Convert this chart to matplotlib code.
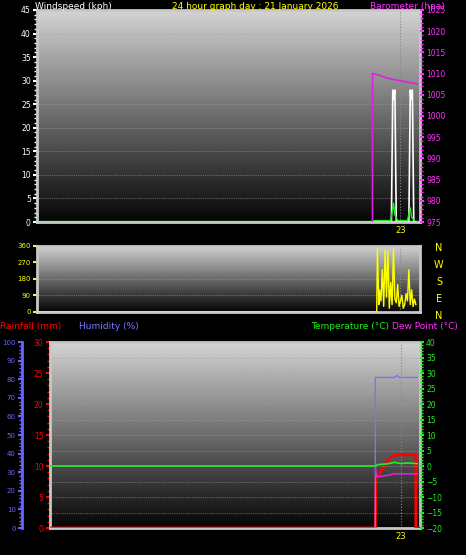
import numpy as np
import matplotlib
matplotlib.use("Agg")
import matplotlib.pyplot as plt

# ---- data (hours on the 24h axis) ----
baro_t = [21.0, 21.0, 21.5, 22.0, 22.5, 23.0, 23.5, 24.2]
baro_v = [975, 1010, 1009.6, 1009.0, 1008.6, 1008.3, 1008.0, 1007.6]
gust_t = [21.0, 22.35, 22.45, 22.5, 22.6, 22.7, 22.8, 23.6, 23.7, 23.75, 23.85, 23.95, 24.05]
gust_v = [0, 0, 28, 26, 28, 0, 0, 0, 28, 26, 28, 0, 0]
avg_t = [21.0, 22.3, 22.5, 22.6, 22.8, 23.5, 23.7, 23.8, 24.0]
avg_v = [0.3, 0.3, 4, 1.5, 0.3, 0.3, 3, 1, 0.3]
dir_t = [-3.0, 21.3, 21.35, 21.45, 21.5, 21.6, 21.7, 21.8, 21.9, 22.0, 22.1, 22.2, 22.3, 22.4, 22.5, 22.6,
         22.7, 22.8, 22.9, 23.0, 23.1, 23.2, 23.3, 23.4, 23.5, 23.6, 23.7, 23.8, 23.9, 24.0, 24.1]
dir_v = [0, 0, 345, 40, 120, 60, 230, 30, 340, 80, 330, 20, 160, 40, 340, 70, 50, 150, 30, 60,
         90, 20, 40, 100, 60, 230, 40, 120, 30, 70, 40]
hum_t = [-3.0, 21.1, 21.1, 22.5, 22.7, 22.9, 24.2]
hum_v = [0, 0, 81, 81, 82, 81, 81]
temp_t = [-3.0, 21.1, 21.3, 22.0, 22.5, 23.0, 23.5, 24.2]
temp_v = [0, 0, 0.5, 0.7, 1.2, 0.8, 1.0, 0.8]
dew_t = [-3.0, 21.1, 21.2, 22.0, 22.5, 23.0, 24.2]
dew_v = [0, 0, -3.5, -3.0, -2.5, -2.5, -2.5]
rain_t = [-3.0, 21.1, 21.15, 21.5, 21.9, 22.3, 22.6, 24.1, 24.1, 24.4]
rain_v = [0, 0, 8.2, 9.0, 10.5, 11.5, 11.8, 11.8, 0, 0]

XL = (-3.0, 24.4)
fig = plt.figure(figsize=(4.66, 5.55), dpi=100, facecolor='black')

def bg(ax):
    g = np.linspace(0.83, 0.02, 200).reshape(-1, 1)
    ax.imshow(g, cmap='gray', vmin=0, vmax=1, aspect='auto', extent=(0, 1, 0, 1),
              transform=ax.transAxes, zorder=0)
    ax.set_facecolor('black')
    for s in ax.spines.values():
        s.set_color('#c8c8c8'); s.set_linewidth(2)
    ax.axvline(23, color='#888888', ls=':', lw=0.8, zorder=1)
    ax.set_xlim(*XL)
    ax.set_xticks([23]); ax.set_xticklabels(['23'], color='yellow', fontsize=6)
    ax.tick_params(axis='x', length=0, pad=3)

def yfmt(ax, color, size=5.5):
    ax.tick_params(axis='y', colors=color, labelsize=size, length=3, width=1.5, direction='out',
                   labelcolor=color, pad=1.5)
    ax.tick_params(axis='y', which='minor', colors=color, length=2, width=1)

# top panel
ax1 = fig.add_axes([0.0794, 0.6, 0.822, 0.382])
bg(ax1)
ax1.set_ylim(0, 45); ax1.set_yticks(range(0, 46, 5))
ax1.set_yticks(np.arange(0, 46, 1), minor=True)
yfmt(ax1, 'white')
for y in range(5, 45, 5):
    ax1.axhline(y, color='#a0a0a0', ls=':', lw=0.5, zorder=1)
ax1.plot(gust_t, gust_v, color='white', lw=1.2, zorder=3)
ax1.plot(avg_t, avg_v, color='#22ee22', lw=1.0, zorder=4)
ax1.axhline(0.3, color='#22ee22', lw=1, zorder=2)
ax1b = ax1.twinx()
ax1b.set_ylim(975, 1025); ax1b.set_yticks(range(975, 1026, 5))
ax1b.set_yticks(np.arange(975, 1026, 1), minor=True)
for s in ax1b.spines.values(): s.set_visible(False)
yfmt(ax1b, '#ff33ff')
ax1b.plot(baro_t, baro_v, color='#dd22dd', lw=1.2)
fig.text(0.075, 0.997, 'Windspeed (kph)', color='white', fontsize=6.5, va='top')
fig.text(0.37, 0.997, '24 hour graph day : 21 January 2026', color='yellow', fontsize=6.5, va='top')
fig.text(0.795, 0.997, 'Barometer (hpa)', color='#ff33ff', fontsize=6.5, va='top')

# middle panel
ax2 = fig.add_axes([0.0794, 0.438, 0.822, 0.119])
bg(ax2)
ax2.set_ylim(0, 360); ax2.set_yticks([0, 90, 180, 270, 360])
ax2.set_xticklabels([])
yfmt(ax2, 'yellow', size=5)
for y in [90, 180, 270]:
    ax2.axhline(y, color='#a0a0a0', ls=':', lw=0.5, zorder=1)
ax2.plot(dir_t, dir_v, color='yellow', lw=1.0, zorder=3)
for i, lab in enumerate(['N', 'W', 'S', 'E', 'N']):
    fig.text(0.942, 0.553 - i * 0.0305, lab, color='yellow', fontsize=7, va='center', ha='center')

# bottom panel
ax3 = fig.add_axes([0.107, 0.0486, 0.794, 0.335])
bg(ax3)
ax3.set_ylim(0, 30); ax3.set_yticks(range(0, 31, 5))
ax3.set_yticks(np.arange(0, 31, 1), minor=True)
yfmt(ax3, 'red')
ax3.plot(rain_t, rain_v, color='red', lw=2, zorder=5)
ax3h = ax3.twinx()
ax3h.set_ylim(0, 100)
ax3h.spines['left'].set_position(('outward', 20)); ax3h.spines['left'].set_visible(True)
ax3h.spines['left'].set_color('#6666ff'); ax3h.spines['left'].set_linewidth(2)
for k in ['right', 'top', 'bottom']: ax3h.spines[k].set_visible(False)
ax3h.yaxis.set_label_position('left'); ax3h.yaxis.set_ticks_position('left')
ax3h.set_yticks(range(0, 101, 10)); ax3h.set_yticks(range(0, 101, 2), minor=True)
yfmt(ax3h, '#6666ff', size=5)
ax3h.plot(hum_t, hum_v, color='#7777ee', lw=1, zorder=3)
ax3t = ax3.twinx()
ax3t.set_ylim(-20, 40); ax3t.set_yticks(range(-20, 41, 5))
ax3t.set_yticks(range(-20, 41, 1), minor=True)
for s in ax3t.spines.values(): s.set_visible(False)
yfmt(ax3t, '#22ee22')
for y in range(-15, 40, 5):
    ax3t.axhline(y, color='#a0a0a0', ls=':', lw=0.5, zorder=1)
ax3t.plot(dew_t, dew_v, color='#dd22dd', lw=1.2, zorder=3)
ax3t.plot(temp_t, temp_v, color='#22ee22', lw=1.2, zorder=4)
fig.text(0.0, 0.412, 'Rainfall (mm)', color='red', fontsize=6.5, va='center')
fig.text(0.17, 0.412, 'Humidity (%)', color='#7777ff', fontsize=6.5, va='center')
fig.text(0.668, 0.412, 'Temperature (°C)', color='#22ee22', fontsize=6.5, va='center')
fig.text(0.842, 0.412, 'Dew Point (°C)', color='#ff33ff', fontsize=6.5, va='center')

fig.savefig('out.png', dpi=100, facecolor='black')
